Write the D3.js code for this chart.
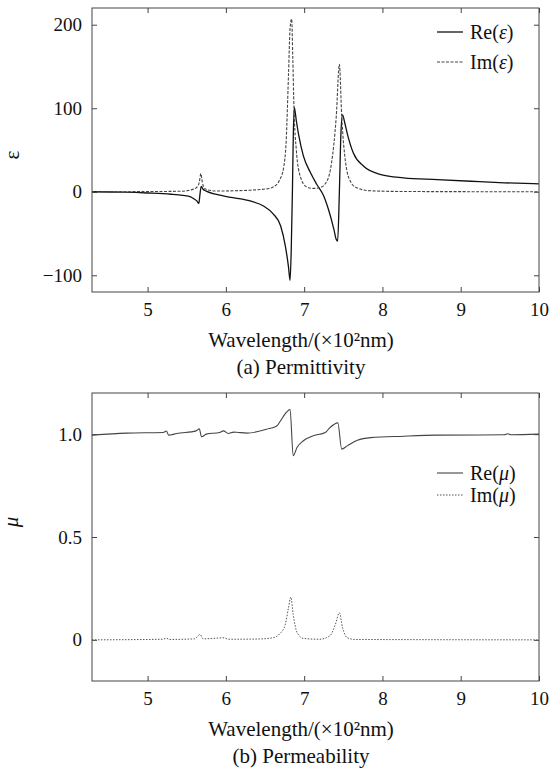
<!DOCTYPE html>
<html><head><meta charset="utf-8">
<script src="https://cdn.jsdelivr.net/npm/d3@7"></script>
<style>
body{margin:0;background:#fff}
svg{display:block}
text{font-family:"Liberation Serif","Times New Roman",Times,serif;fill:#111}
</style>
</head><body>
<svg id="c" width="555" height="774"></svg>
<script>
// ---- data ----
const xTicks = [5, 6, 7, 8, 9, 10];
const xTickLabels = ["5", "6", "7", "8", "9", "10"];
const epsTicks = [-100, 0, 100, 200];
const epsTickLabels = ["\u2212100", "0", "100", "200"];
const muTicks = [0, 0.5, 1.0];
const muTickLabels = ["0", "0.5", "1.0"];

const epsReWl = [4.29, 4.7, 5.0, 5.3, 5.45, 5.55, 5.60, 5.63, 5.655, 5.668, 5.685, 5.71, 5.75, 5.88, 6.09, 6.31, 6.48, 6.61, 6.70, 6.76, 6.80, 6.82, 6.835, 6.85, 6.862, 6.874, 6.90, 6.93, 6.99, 7.08, 7.16, 7.25, 7.31, 7.38, 7.41, 7.428, 7.45, 7.47, 7.49, 7.52, 7.55, 7.63, 7.76, 7.98, 8.27, 8.70, 9.13, 9.56, 10.0];
const epsRe   = [0, -0.5, -1.5, -3, -4.4, -6, -9, -11, -14, -4, 6.5, 3, 0.7, -3.2, -7.1, -11, -17, -27, -41, -65, -90, -106, -70, 0, 70, 101, 85, 68, 43, 23, 9, -5, -21, -45, -57, -59, 0, 70, 92, 82, 70, 46, 30.5, 20.6, 16.7, 14.6, 12.6, 10.7, 9.5];

const epsImWl = [4.29, 5.0, 5.45, 5.54, 5.62, 5.66, 5.68, 5.70, 5.73, 5.88, 6.31, 6.55, 6.61, 6.69, 6.74, 6.77, 6.80, 6.82, 6.84, 6.855, 6.87, 6.90, 6.95, 7.03, 7.12, 7.20, 7.29, 7.35, 7.41, 7.45, 7.48, 7.53, 7.59, 7.67, 7.85, 8.3, 10.0];
const epsIm   = [0, 0.2, 0.7, 1.9, 4.7, 11, 21.8, 11, 3.5, 0.9, 1.9, 4, 6, 14.6, 30, 60, 140, 195, 207, 160, 100, 50, 18.6, 6, 4, 4.8, 12.6, 34.5, 90, 152.7, 90, 34.5, 12.6, 4.8, 1.2, 0.3, 0];

const muReWl = [4.29, 4.73, 5.2, 5.24, 5.27, 5.3, 5.37, 5.62, 5.66, 5.69, 5.75, 5.92, 5.97, 6.03, 6.1, 6.14, 6.27, 6.52, 6.65, 6.69, 6.76, 6.82, 6.86, 6.91, 6.99, 7.12, 7.27, 7.33, 7.43, 7.48, 7.55, 7.68, 7.85, 8.27, 8.7, 9.56, 9.6, 9.64, 10.0];
const muRe   = [0.995, 1.005, 1.008, 1.015, 0.995, 0.997, 1.003, 1.016, 1.026, 0.987, 1.0, 1.008, 1.016, 1.003, 1.01, 1.009, 1.005, 1.024, 1.04, 1.06, 1.10, 1.12, 0.895, 0.936, 0.968, 0.992, 1.008, 1.032, 1.055, 0.927, 0.943, 0.97, 0.983, 0.99, 0.995, 0.997, 1.002, 0.997, 1.0];

const muImWl = [4.29, 5.2, 5.24, 5.28, 5.6, 5.67, 5.71, 5.98, 6.03, 6.4, 6.6, 6.69, 6.76, 6.8, 6.83, 6.86, 6.91, 6.99, 7.2, 7.33, 7.40, 7.45, 7.49, 7.55, 7.65, 10.0];
const muIm   = [0, 0.003, 0.008, 0.002, 0.005, 0.026, 0.005, 0.01, 0.003, 0.004, 0.01, 0.03, 0.076, 0.156, 0.208, 0.124, 0.035, 0.007, 0.003, 0.02, 0.076, 0.132, 0.06, 0.01, 0.002, 0];

const FONT = '"Liberation Serif","Times New Roman",Times,serif';
const svg = d3.select("#c");
const X0 = 92, X1 = 539;

function panel(o) {
  const x = d3.scaleLinear().domain([4.29, 10]).range([X0, X1]);
  const y = d3.scaleLinear().domain(o.yDomain).range([o.bottom, o.top]);
  const g = svg.append("g").attr("font-family", FONT);
  const clipId = "clip" + o.id;
  g.append("clipPath").attr("id", clipId).append("rect")
    .attr("x", X0).attr("y", o.top).attr("width", X1 - X0).attr("height", o.bottom - o.top);

  const ax = (gen, tr) => {
    const a = g.append("g").attr("transform", tr).call(gen);
    a.attr("font-family", FONT);
    a.select(".domain").remove();
    a.selectAll("line").attr("stroke", "#444");
    a.selectAll("text").attr("font-size", 19).style("font-family", FONT).attr("fill", "#111");
    return a;
  };
  ax(d3.axisBottom(x).tickValues(xTicks).tickSize(-5).tickPadding(11).tickFormat((d, i) => xTickLabels[i]), `translate(0,${o.bottom})`);
  ax(d3.axisTop(x).tickValues(xTicks).tickSize(-5).tickFormat(""), `translate(0,${o.top})`);
  ax(d3.axisLeft(y).tickValues(o.ticks).tickSize(-5).tickPadding(10).tickFormat((d, i) => o.labels[i]), `translate(${X0},0)`);
  ax(d3.axisRight(y).tickValues(o.ticks).tickSize(-5).tickFormat(""), `translate(${X1},0)`);

  const line = d3.line().x(d => x(d[0])).y(d => y(d[1])).curve(d3.curveMonotoneX);
  o.series.forEach(s => {
    g.append("path")
      .datum(s.wl.map((w, i) => [w, s.v[i]]))
      .attr("clip-path", `url(#${clipId})`)
      .attr("fill", "none")
      .attr("stroke", s.color)
      .attr("stroke-width", s.width)
      .attr("stroke-dasharray", s.dash || null)
      .attr("d", line);
  });

  g.append("rect").attr("x", X0).attr("y", o.top).attr("width", X1 - X0).attr("height", o.bottom - o.top)
    .attr("fill", "none").attr("stroke", "#444").attr("stroke-width", 1);

  // legend
  o.series.forEach((s, i) => {
    const ly = o.legendY[i];
    g.append("line").attr("x1", 437).attr("x2", 463).attr("y1", ly).attr("y2", ly)
      .attr("stroke", s.color).attr("stroke-width", s.width).attr("stroke-dasharray", s.dash || null);
    const t = g.append("text").attr("x", 470).attr("y", ly + 7).attr("font-size", 20).style("font-family", FONT);
    t.append("tspan").text(s.pre);
    t.append("tspan").attr("font-style", "italic").text(s.sym);
    t.append("tspan").text(")");
  });

  // y label
  g.append("text").attr("transform", `translate(${o.yLabelX},${o.yLabelY}) rotate(-90)`)
    .attr("text-anchor", "middle").attr("font-size", 21).style("font-family", FONT)
    .attr("font-style", o.yLabelItalic ? "italic" : "normal").text(o.yLabel);

  // x label and caption
  g.append("text").attr("x", 301).attr("y", o.xLabelY).attr("text-anchor", "middle").attr("font-size", 21)
    .style("font-family", FONT).text("Wavelength/(\u00D710\u00B2nm)");
  g.append("text").attr("x", 301).attr("y", o.captionY).attr("text-anchor", "middle").attr("font-size", 21)
    .style("font-family", FONT).text(o.caption);
}

panel({
  id: "a", top: 8, bottom: 292, yDomain: [-120, 220], ticks: epsTicks, labels: epsTickLabels,
  series: [
    {wl: epsReWl, v: epsRe, color: "#111", width: 1.3, pre: "Re(", sym: "\u03B5"},
    {wl: epsImWl, v: epsIm, color: "#444", width: 1.1, dash: "3,1.5", pre: "Im(", sym: "\u03B5"}
  ],
  legendY: [32, 62],
  yLabel: "\u03B5", yLabelItalic: false, yLabelX: 19, yLabelY: 155,
  xLabelY: 346.5, captionY: 374, caption: "(a) Permittivity"
});

panel({
  id: "b", top: 393, bottom: 681, yDomain: [-0.2, 1.2], ticks: muTicks, labels: muTickLabels,
  series: [
    {wl: muReWl, v: muRe, color: "#444", width: 1.1, pre: "Re(", sym: "\u03BC"},
    {wl: muImWl, v: muIm, color: "#555", width: 1, dash: "1.5,1.5", pre: "Im(", sym: "\u03BC"}
  ],
  legendY: [473, 495],
  yLabel: "\u03BC", yLabelItalic: true, yLabelX: 18, yLabelY: 522,
  xLabelY: 736, captionY: 763, caption: "(b) Permeability"
});
</script>
</body></html>
